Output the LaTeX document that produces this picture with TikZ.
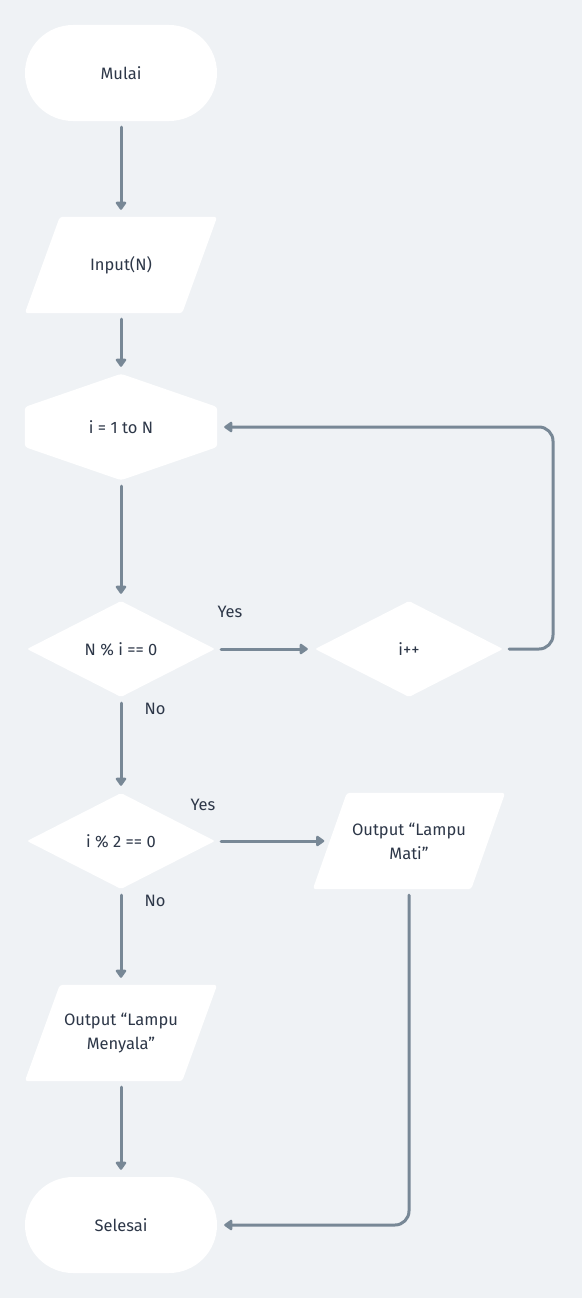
\documentclass[tikz,border=0pt]{standalone}
\usepackage{fontspec}
\setmainfont{Fira Sans}
\usetikzlibrary{arrows.meta,shapes.geometric,calc,backgrounds}
\definecolor{bgc}{RGB}{239,242,245}
\definecolor{linec}{RGB}{120,136,150}
\definecolor{txtc}{RGB}{45,55,72}
\tikzset{
  base/.style={text=txtc,font=\fontsize{16.5}{24}\selectfont,align=center,inner sep=0pt},
  term/.style={base,rectangle,rounded corners=48pt,fill=white,minimum width=192pt,minimum height=96pt},
  boxarea/.style={base,rectangle,minimum width=192pt,minimum height=96pt},
  hexarea/.style={base,rectangle,minimum width=192pt,minimum height=106pt},
  dec/.style={base,diamond,fill=white,minimum width=188pt,minimum height=96pt,rounded corners=2pt},
  lbl/.style={text=txtc,font=\fontsize{16.5}{18}\selectfont,inner sep=0pt},
  arr/.style={draw=linec,line width=3pt,line cap=round,-{Triangle[width=12pt,length=9pt,round]},shorten <=6pt,shorten >=7pt}
}
\begin{document}
\begin{tikzpicture}[x=1pt,y=-1pt]
\useasboundingbox (0,0) rectangle (582,1298);
% nodes
\node[term] (start) at (121,73) {Mulai};
\node[boxarea] (inp) at (121,265) {Input(N)};
\node[hexarea] (loop) at (121,427) {i = 1 to N};
\node[dec] (d1) at (121,649) {N \% i == 0};
\node[dec] (inc) at (409,649) {i++};
\node[dec] (d2) at (121,841) {i \% 2 == 0};
\node[boxarea] (outm) at (409,841) {Output “Lampu\\Mati”};
\node[boxarea] (outn) at (121,1033) {Output “Lampu\\Menyala”};
\node[term] (stop) at (121,1225) {Selesai};
\node[lbl] (y1) at (230,612) {Yes};
\node[lbl] (n1) at (155,709) {No};
\node[lbl] (y2) at (203,805) {Yes};
\node[lbl] (n2) at (155,901) {No};
\coordinate (rx) at (553,0);
\coordinate (bx) at (409,0);
% background shapes
\begin{scope}[on background layer]
\fill[bgc] (0,0) rectangle (582,1298);
\fill[white,rounded corners=3pt] ($(inp.north west)+(35,0)$) -- (inp.north east) -- ($(inp.south east)-(35,0)$) -- (inp.south west) -- cycle;
\fill[white,rounded corners=3pt] ($(outm.north west)+(34,0)$) -- (outm.north east) -- ($(outm.south east)-(34,0)$) -- (outm.south west) -- cycle;
\fill[white,rounded corners=3pt] ($(outn.north west)+(35,0)$) -- (outn.north east) -- ($(outn.south east)-(35,0)$) -- (outn.south west) -- cycle;
\fill[white,rounded corners=3pt] (loop.north) -- ($(loop.east)+(0,-20)$) -- ($(loop.east)+(0,20)$) -- (loop.south) -- ($(loop.west)+(0,20)$) -- ($(loop.west)+(0,-20)$) -- cycle;
\end{scope}
% connectors
\draw[arr] (start.south) -- (inp.north);
\draw[arr] (inp.south) -- (loop.north);
\draw[arr] (loop.south) -- (d1.north);
\draw[arr] (d1.east) -- (inc.west);
\draw[arr,rounded corners=14pt] (inc.east) -- (inc.east -| rx) -- (loop.east -| rx) -- (loop.east);
\draw[arr] (d1.south) -- (d2.north);
\draw[arr,shorten >=6pt] (d2.east) -- ($(outm.west)+(17.5,0)$);
\draw[arr] (d2.south) -- (outn.north);
\draw[arr] (outn.south) -- (stop.north);
\draw[arr,rounded corners=14pt] (outm.south) -- (stop.east -| bx) -- (stop.east);
\end{tikzpicture}
\end{document}
